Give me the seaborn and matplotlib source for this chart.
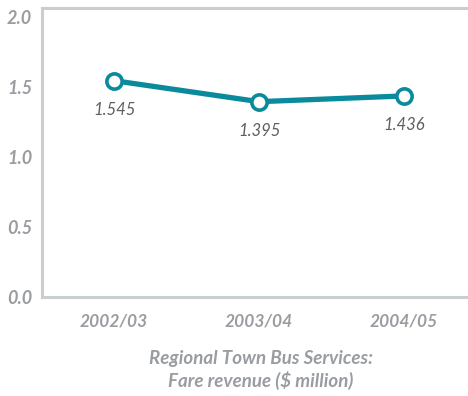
import matplotlib
matplotlib.use("Agg")
import matplotlib.pyplot as plt
import seaborn as sns
import pandas as pd

years = ["2002/03", "2003/04", "2004/05"]
revenue = [1.545, 1.395, 1.436]
labels = ["1.545", "1.395", "1.436"]
yticks = [0.0, 0.5, 1.0, 1.5, 2.0]

sns.set_style("white")
plt.rcParams['font.family'] = ['Lato', 'DejaVu Sans']

df = pd.DataFrame({"year": years, "revenue": revenue, "x": range(len(years))})

fig = plt.figure(figsize=(4.68, 3.96), dpi=100)
ax = fig.add_axes([42/468, 99/396, (468-42)/468, 289/396])

teal = "#0a8a9c"
gray_spine = "#c9ced1"
gray_text = "#999da1"

sns.lineplot(data=df, x="x", y="revenue", ax=ax, color=teal, linewidth=3.8,
             marker="o", markersize=11, markerfacecolor="white",
             markeredgecolor=teal, markeredgewidth=2.6, zorder=3)

for xi, v, lab in zip(df["x"], revenue, labels):
    ax.annotate(lab, (xi, v), xytext=(0, -27), textcoords="offset points",
                ha="center", va="bottom", fontsize=12, style="italic",
                fontweight="normal", color="#5c5f62")

ax.set_xlim(-72/145, 2 + 64/145)
ax.set_ylim(0, 2.064)
ax.set_xticks(range(len(years)))
ax.set_xticklabels(years)
ax.set_yticks(yticks)
ax.set_yticklabels([f"{t:.1f}" for t in yticks])

for side in ["left", "top", "bottom"]:
    ax.spines[side].set_color(gray_spine)
    ax.spines[side].set_linewidth(2.2)
ax.spines["right"].set_visible(False)

ax.tick_params(axis="x", direction="in", length=6, width=2, color=gray_spine,
               pad=12, labelsize=12.5, labelcolor=gray_text)
ax.tick_params(axis="y", length=0, pad=7, labelsize=13, labelcolor=gray_text)
for t in ax.get_xticklabels() + ax.get_yticklabels():
    t.set_fontweight("bold")
    t.set_fontstyle("italic")

ax.set_xlabel("")
ax.set_ylabel("")

fig.text(261/468, 1 - 370/396, "Regional Town Bus Services:\nFare revenue ($ million)",
         ha="center", va="center", fontsize=13.5, fontweight="bold", style="italic",
         color=gray_text, linespacing=1.2)

fig.savefig("out.png", dpi=100)
